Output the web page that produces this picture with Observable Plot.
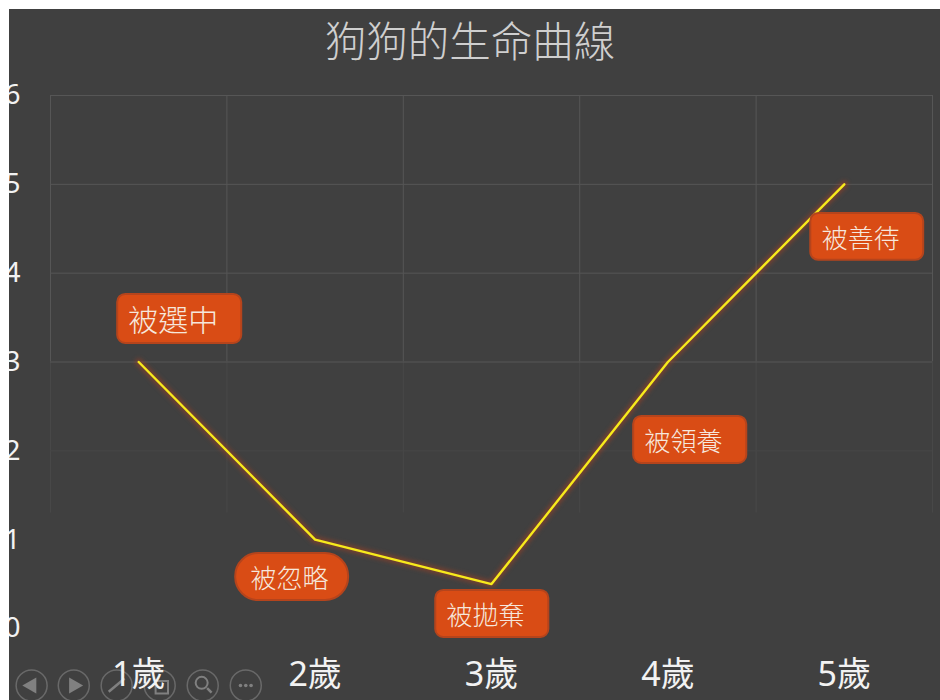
<!DOCTYPE html>
<html><head><meta charset="utf-8">
<script src="https://cdn.jsdelivr.net/npm/d3@7"></script>
<script src="https://cdn.jsdelivr.net/npm/@observablehq/plot@0.6"></script>
<style>
html,body{margin:0;padding:0;background:#fff;width:940px;height:700px;overflow:hidden}
#panel{position:absolute;left:9px;top:9px;width:931px;height:691px;background:#404040;overflow:hidden;font-family:"Noto Sans","Noto Sans CJK TC",sans-serif}
#title{position:absolute;left:0;top:2px;width:922px;text-align:center;font-size:41.5px;line-height:56px;color:#cfcfcf;font-weight:300;font-family:"Noto Sans CJK TC",sans-serif}
svg{display:block}
</style></head><body>
<div id="panel"><div id="title">狗狗的生命曲線</div><div id="chart"></div></div>
<script>
const ages = [1, 2, 3, 4, 5];
const lifeValues = [3, 1, 0.5, 3, 5];
const yTicks = [0, 1, 2, 3, 4, 5, 6];
const gridX = [0.5, 1.5, 2.5, 3.5, 4.5, 5.5];
const gridYStrong = [3, 4, 5, 6];

const labelNames = ["被選中", "被忽略", "被拋棄", "被領養", "被善待"];
const labelX1 = [0.881, 1.550, 2.684, 3.806, 4.810];
const labelX2 = [1.584, 2.190, 3.325, 4.447, 5.450];
const labelY1 = [3.209, 0.315, -0.101, 1.858, 4.144];
const labelY2 = [3.761, 0.845, 0.428, 2.387, 4.673];
const labelTextX = [0.941, 1.634, 2.745, 3.868, 4.872];
const labelSize = [30, 26, 26, 26, 26];
const labelRound = [false, true, false, false, false];

const navX = [0.393, 0.632, 0.875, 1.119, 1.363, 1.607];
const navY = -0.642;

const line = ages.map((a, i) => ({age: a, value: lifeValues[i]}));
const labels = labelNames.map((name, i) => ({
  name, x1: labelX1[i], x2: labelX2[i], y1: labelY1[i], y2: labelY2[i],
  tx: labelTextX[i], ty: (labelY1[i] + labelY2[i]) / 2, size: labelSize[i], round: labelRound[i]
}));
const navColor = "#696969", glyph = "#808080";
const boxFill = "#d94c15", boxStroke = "#b5441c", boxText = "#f6e7dc";
const cjk = '"Noto Sans CJK TC",sans-serif';

const chart = Plot.plot({
  width: 931, height: 691,
  marginLeft: 41, marginRight: 8, marginTop: 86, marginBottom: 72,
  style: {background: "transparent", fontFamily: '"Noto Sans","Noto Sans CJK TC",sans-serif', overflow: "visible"},
  x: {domain: [0.5, 5.5]},
  y: {domain: [0, 6]},
  marks: [
    Plot.ruleX(gridX, {y1: 3, y2: 6, stroke: "#565656", strokeWidth: 1}),
    Plot.ruleX(gridX, {y1: 1.3, y2: 3, stroke: "#484848", strokeWidth: 1}),
    Plot.ruleY(gridYStrong, {x1: 0.5, x2: 5.5, stroke: "#565656", strokeWidth: 1}),
    Plot.ruleY([2], {x1: 0.5, x2: 5.5, stroke: "#474747", strokeWidth: 1}),

    Plot.dot(navX, {x: d => d, y: () => navY, r: 15.5, stroke: navColor, strokeWidth: 1.5, fill: "none"}),
    Plot.dot([navX[0]], {x: d => d, y: () => navY, symbol: "triangle", rotate: -90, r: 6, fill: glyph}),
    Plot.dot([navX[1]], {x: d => d, y: () => navY, symbol: "triangle", rotate: 90, r: 6, fill: glyph}),
    Plot.link([navX[2]], {x1: d => d - 0.045, x2: d => d + 0.045, y1: navY - 0.07, y2: navY + 0.08, stroke: glyph, strokeWidth: 2.5}),
    Plot.dot([navX[3]], {x: d => d + 0.012, y: () => navY - 0.02, symbol: "square", r: 7, stroke: glyph, strokeWidth: 2, fill: "none"}),
    Plot.dot([navX[4]], {x: d => d - 0.006, y: () => navY + 0.03, r: 6, stroke: glyph, strokeWidth: 2, fill: "none"}),
    Plot.link([navX[4]], {x1: d => d + 0.025, x2: d => d + 0.05, y1: navY - 0.03, y2: navY - 0.08, stroke: glyph, strokeWidth: 2.5}),
    Plot.dot([-0.03, 0, 0.03], {x: d => navX[5] + d, y: () => navY, r: 1.8, fill: glyph}),

    Plot.line(line, {x: "age", y: "value", stroke: "#b8401c", strokeWidth: 7, strokeOpacity: 0.45, imageFilter: "blur(2px)"}),
    Plot.line(line, {x: "age", y: "value", stroke: "#f7ea1c", strokeWidth: 2.4}),

    Plot.rect(labels.filter(d => !d.round), {x1: "x1", x2: "x2", y1: "y1", y2: "y2", rx: 8, fill: boxFill, stroke: boxStroke, strokeWidth: 2}),
    Plot.rect(labels.filter(d => d.round), {x1: "x1", x2: "x2", y1: "y1", y2: "y2", rx: 23, fill: boxFill, stroke: boxStroke, strokeWidth: 2}),
    Plot.text(labels, {x: "tx", y: "ty", dy: 2.5, text: "name", fontSize: "size", textAnchor: "start", fill: boxText, fontFamily: cjk, fontWeight: 300}),

    Plot.axisY({ticks: yTicks, tickFormat: d => String(d), tickSize: 0, tickPadding: 30, fontSize: 28, color: "#f2f2f2", label: null}),
    Plot.axisX({ticks: ages, tickFormat: d => d + "歲", tickSize: 0, tickPadding: 33, fontSize: 34, color: "#f2f2f2", label: null})
  ]
});
document.getElementById("chart").appendChild(chart);
</script>
</body></html>
